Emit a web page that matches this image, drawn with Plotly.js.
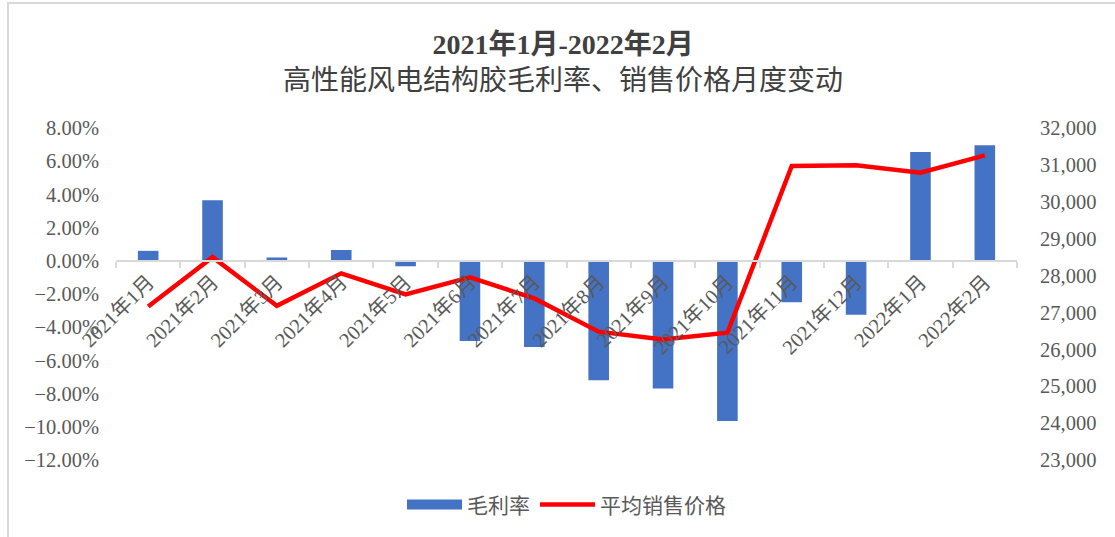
<!DOCTYPE html>
<html>
<head>
<meta charset="utf-8">
<script src="https://cdn.plot.ly/plotly-3.0.1.min.js"></script>
<style>
html,body{margin:0;padding:0;background:#fff;}
#wrap{position:relative;width:1115px;height:537px;overflow:hidden;}
#chart{position:absolute;left:0;top:0;width:1115px;height:537px;}
#frame{position:absolute;left:7px;top:2px;width:1120px;height:550px;border-left:2px solid #d9d9d9;border-top:2px solid #d9d9d9;pointer-events:none;}
</style>
</head>
<body>
<div id="wrap"><div id="chart"></div><div id="frame"></div></div>
<script>
const months = ["2021年1月","2021年2月","2021年3月","2021年4月","2021年5月","2021年6月","2021年7月",
  "2021年8月","2021年9月","2021年10月","2021年11月","2021年12月","2022年1月","2022年2月"];
const grossMargin = [0.6, 3.65, 0.2, 0.65, -0.33, -4.83, -5.2, -7.2, -7.7, -9.65, -2.5, -3.25, 6.55, 6.96];
const avgPrice = [27160, 28500, 27180, 28060, 27490, 27950, 27380, 26480, 26270, 26450, 30970, 30990, 30790, 31260];
const seriesNames = ["毛利率", "平均销售价格"];
const titleLines = ["2021年1月-2022年2月", "高性能风电结构胶毛利率、销售价格月度变动"];

const tickFont = {family: "Liberation Serif, Noto Sans CJK SC, serif", size: 20.5, color: "#595959"};

const traces = [
  {type: "bar", name: seriesNames[0], x: months, y: grossMargin, yaxis: "y",
   marker: {color: "#4472C4"}, width: 0.32, showlegend: false, legendgroup: "gm"},
  // legend-only entry so the key shows a wide rectangle like the original
  {type: "scatter", mode: "lines", name: seriesNames[0], x: [null], y: [null], yaxis: "y",
   line: {color: "#4472C4", width: 10}, legendgroup: "gm", hoverinfo: "skip"},
  {type: "scatter", mode: "lines", name: seriesNames[1], x: months, y: avgPrice, yaxis: "y2",
   line: {color: "#FF0000", width: 4.5}}
];

const layout = {
  width: 1115, height: 537,
  paper_bgcolor: "#fff", plot_bgcolor: "rgba(0,0,0,0)",
  margin: {l: 116, r: 98, t: 128, b: 75},
  title: {
    text: "<b>" + titleLines[0] + "</b><br>" + titleLines[1],
    font: {family: "Liberation Serif, Noto Sans CJK SC, serif", size: 28, color: "#404040"},
    x: 0.505, xanchor: "center", y: 0.9, yanchor: "top"
  },
  showlegend: true,
  legend: {orientation: "h", x: 0.5, xanchor: "center", y: -0.135, yanchor: "middle",
    font: {family: "Noto Sans CJK SC, sans-serif", size: 21, color: "#595959"},
    itemwidth: 55, traceorder: "normal"},
  xaxis: {type: "category", anchor: "free", position: 0.6,
    showline: true, linecolor: "#d9d9d9", linewidth: 2,
    ticks: "outside", tickson: "boundaries", ticklen: 6, tickcolor: "#d9d9d9", tickwidth: 2,
    tickangle: -45, tickfont: tickFont, showgrid: false, zeroline: false, automargin: false,
    fixedrange: true},
  yaxis: {range: [-12, 8], dtick: 2, tick0: 0, tickformat: ".2f", ticksuffix: "%",
    showgrid: false, zeroline: false, showline: false, ticks: "", tickfont: tickFont,
    ticklabelstandoff: 16, automargin: false},
  yaxis2: {range: [23000, 32000], dtick: 1000, tickformat: ",d", overlaying: "y", side: "right",
    showgrid: false, zeroline: false, showline: false, ticks: "", tickfont: tickFont,
    ticklabelstandoff: 22, automargin: false}
};

Plotly.newPlot("chart", traces, layout, {displayModeBar: false, staticPlot: true});
</script>
</body>
</html>
